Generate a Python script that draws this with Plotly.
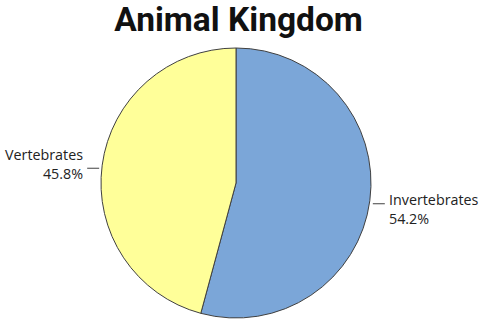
import math
import plotly.graph_objects as go

labels = ["Invertebrates", "Vertebrates"]
values = [54.2, 45.8]
colors = ["#7BA6D8", "#FFFF99"]

W, H = 480, 324
CX, CY, R = 236, 183, 135  # pie centre / radius in pixels

fig = go.Figure(go.Pie(
    labels=labels,
    values=values,
    sort=False,
    direction="clockwise",
    rotation=0,
    marker=dict(colors=colors, line=dict(color="#404040", width=1)),
    textinfo="none",
    hoverinfo="label+percent",
    domain=dict(x=[(CX - R) / W, (CX + R) / W], y=[(H - CY - R) / H, (H - CY + R) / H]),
    showlegend=False,
))

# outside labels with short leader lines, positioned from slice mid-angles
total = sum(values)
start = 0.0
shapes, annotations = [], []
for lab, v in zip(labels, values):
    frac = v / total
    mid = math.radians((start + frac / 2) * 360)
    start += frac
    px = CX + R * math.sin(mid)
    py = CY - R * math.cos(mid)
    s = 1 if math.sin(mid) >= 0 else -1
    ly = py + 3
    shapes.append(dict(type="line", xref="paper", yref="paper",
                       x0=(px + s * 3) / W, x1=(px + s * 15) / W,
                       y0=1 - ly / H, y1=1 - ly / H,
                       line=dict(color="#404040", width=1)))
    ty = py + (8 if s > 0 else -1)
    annotations.append(dict(
        x=(px + s * 17) / W, y=1 - ty / H, xref="paper", yref="paper",
        xanchor="left" if s > 0 else "right", yanchor="middle",
        align="left" if s > 0 else "right",
        text=f"{lab}<br>{frac * 100:.1f}%", showarrow=False,
        font=dict(family="Open Sans", size=14.3, color="#222222"),
    ))

fig.update_layout(
    width=W, height=H,
    margin=dict(l=0, r=0, t=0, b=0),
    paper_bgcolor="white",
    title=dict(text="<b>Animal Kingdom</b>", x=0.497, xanchor="center", y=0.939, yanchor="middle",
               font=dict(family="Roboto", size=33.5, color="#111111")),
    shapes=shapes,
    annotations=annotations,
)

fig.write_html("out.html", config={"displayModeBar": False},
               post_script="document.body.style.margin='0';document.body.style.overflow='hidden';")
